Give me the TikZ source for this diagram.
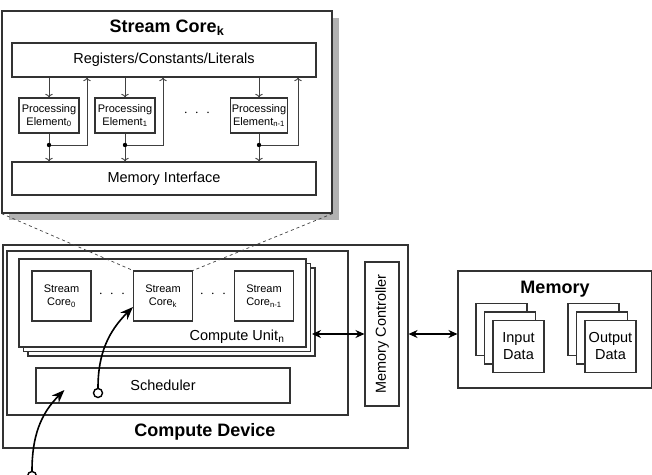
\documentclass[tikz,border=0pt]{standalone}
\usepackage{fontspec}
\setmainfont{Liberation Sans}
\usetikzlibrary{shadows,arrows.meta}

\begin{document}
\begin{tikzpicture}[x=1pt, y=-1pt,
  box/.style={rectangle, draw=black!80, line width=1.1pt, fill=white, inner sep=0pt, align=center,
    font=\fontsize{14.5}{17}\selectfont},
  smallbox/.style={box, font=\fontsize{11}{13}\selectfont},
  stackbox/.style={box, double copy shadow={shadow xshift=4.5pt, shadow yshift=-4.5pt, draw=black!80, line width=1.1pt}},
  datastack/.style={box, double copy shadow={shadow xshift=-8.5pt, shadow yshift=8.5pt, draw=black!80, line width=1.1pt}},
  title/.style={font=\fontsize{18}{21}\selectfont\bfseries},
  label/.style={font=\fontsize{14.5}{17}\selectfont},
  thin/.style={draw=black!75, line width=0.9pt},
  bus/.style={black, line width=1.4pt, {Stealth[length=9pt,width=8pt]}-{Stealth[length=9pt,width=8pt]}},
  call/.style={black, line width=1.6pt, -{Stealth[length=13pt,width=10pt]}},
  port/.style={circle, draw=black, line width=1.4pt, fill=white, minimum size=9pt, inner sep=0pt},
]
\useasboundingbox (0,0) rectangle (652,474);

% stream core, zoomed in
\node[box, minimum width=330pt, minimum height=202pt,
  drop shadow={shadow xshift=7pt, shadow yshift=-7pt, fill=black!30, opacity=1}] (core) at (167,112) {};
\node[title] (coretitle) at (167,28) {Stream Core\textsubscript{k}};
\node[box, minimum width=304pt, minimum height=34pt] (regs) at (164,60) {Registers/Constants/Literals};
\node[smallbox, minimum width=60pt, minimum height=35pt] (pe0) at (49,115.5) {Processing\\Element\textsubscript{0}};
\node[smallbox, minimum width=60pt, minimum height=35pt] (pe1) at (125,115.5) {Processing\\Element\textsubscript{1}};
\node[smallbox, minimum width=57pt, minimum height=35pt] (pen) at (259,115.5) {Processing\\Element\textsubscript{n-1}};
\node[label] (pedots) at (197,113) {$\cdot\;\cdot\;\cdot$};
\node[box, minimum width=304pt, minimum height=33pt] (memif) at (164,178.5) {Memory Interface};

\foreach \pe/\up in {pe0/87, pe1/163, pen/298} {
  \coordinate (j-\pe) at (\pe.center |- 0,145);
  \draw[thin, ->] (\pe.north |- regs.south) -- (\pe.north);
  \draw[thin, ->] (\pe.south) -- (\pe.center |- memif.north);
  \draw[thin, ->] (j-\pe) -| (\up,0 |- regs.south);
  \fill (j-\pe) circle (2.2pt);
}

% compute device
\node[box, minimum width=405pt, minimum height=203pt] (dev) at (205.5,346.5) {};
\node[title] (devtitle) at (205,432) {Compute Device};
\node[box, minimum width=341pt, minimum height=164pt] (cuwrap) at (177.5,333) {};
\node[stackbox, minimum width=287pt, minimum height=88pt] (cu) at (162.5,303) {};
\node[label] (cutitle) at (237,337) {Compute Unit\textsubscript{n}};

\node[smallbox, minimum width=59pt, minimum height=50pt] (sc0) at (61.5,296) {Stream\\Core\textsubscript{0}};
\node[smallbox, minimum width=59pt, minimum height=50pt] (sck) at (163,296) {Stream\\Core\textsubscript{k}};
\node[smallbox, minimum width=59pt, minimum height=50pt] (scn) at (264,296) {Stream\\Core\textsubscript{n-1}};
\node[label] (scdots1) at (112,294) {$\cdot\;\cdot\;\cdot$};
\node[label] (scdots2) at (213,294) {$\cdot\;\cdot\;\cdot$};

\node[box, minimum width=254pt, minimum height=35pt] (sched) at (163,385.5) {Scheduler};
\node[box, minimum width=34pt, minimum height=144pt] (memctl) at (382,334) {};
\node[label, rotate=90] (memctltext) at (memctl) {Memory Controller};

% memory
\node[box, minimum width=194pt, minimum height=117pt] (mem) at (555,329.5) {};
\node[title] (memtitle) at (555,289) {Memory};
\node[datastack, minimum width=51pt, minimum height=52pt] (indata) at (518.5,346.5) {Input\\Data};
\node[datastack, minimum width=51pt, minimum height=52pt] (outdata) at (610.5,346.5) {Output\\Data};

% zoom lines
\draw[thin, dashed, line width=0.7pt] (core.south west) -- (sck.north west);
\draw[thin, dashed, line width=0.7pt] (core.south east) -- (sck.north east);

% buses
\coordinate (cuedge) at (312,334);
\draw[bus] (cuedge) -- (memctl.west);
\draw[bus] (dev.east |- memctl) -- (mem.west |- memctl);

% dispatch
\node[port] (schedport) at (98,393) {};
\draw[call] (schedport) to[out=90, in=225] ([yshift=-11pt]sck.west);
\node[port] (hostport) at (32,476) {};
\draw[call] (hostport) to[out=90, in=225] ([xshift=29pt, yshift=-4.5pt]sched.west);

\end{tikzpicture}
\end{document}
